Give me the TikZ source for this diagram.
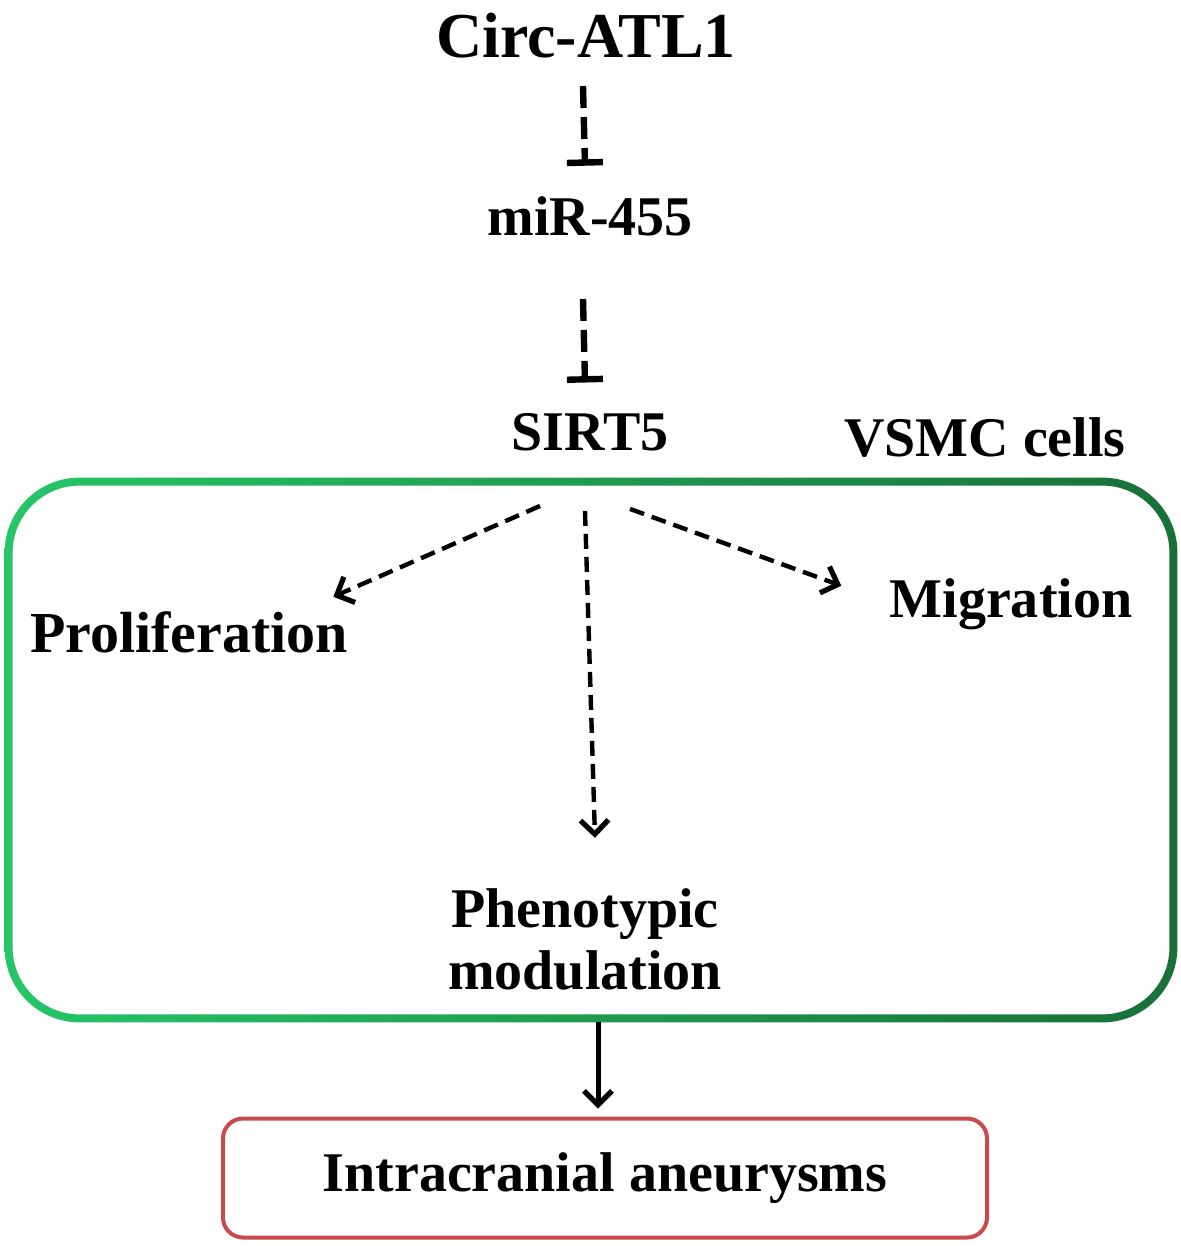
\documentclass[tikz,border=0pt]{standalone}
\usepackage{fontspec}
\setmainfont{Liberation Serif}
\usetikzlibrary{arrows.meta,positioning}
\definecolor{cellgreenL}{RGB}{38,198,104}
\definecolor{cellgreenR}{RGB}{24,112,56}
\definecolor{outcomered}{RGB}{200,74,74}
\tikzset{
  genetxt/.style={font=\bfseries\fontsize{28}{31}\selectfont, inner sep=0pt, align=center},
  inhibit/.style={dash pattern=on 11pt off 4.5pt, line width=3.2pt, -{Bar[width=18pt, line width=3.2pt]}},
  promote/.style={dash pattern=on 7.5pt off 4pt, line width=2.2pt, -{Straight Barb[length=7pt, width=14pt, line width=2.6pt]}},
  leadsto/.style={line width=2.5pt, -{Straight Barb[length=7pt, width=14pt, line width=2.6pt]}}
}
\begin{document}
\begin{tikzpicture}[x=0.5pt, y=-0.5pt]
    \useasboundingbox (0,0) rectangle (1180,1246);
    \node[genetxt, font=\bfseries\fontsize{32}{36}\selectfont, anchor=base] (circ) at (586,58) {Circ-ATL1};
    \node[genetxt, anchor=base] (mir) at (590,235) {miR-455};
    \node[genetxt, anchor=base] (sirt) at (590,450) {SIRT5};
    \node[genetxt, anchor=base] (vsmc) at (985,456) {VSMC cells};
    \node[minimum width=586pt, minimum height=272pt, inner sep=0pt] (cellbox) at (591,750) {};
    \shade[left color=cellgreenL, right color=cellgreenR, even odd rule]
        [rounded corners=37.5pt] (cellbox.south west) rectangle (cellbox.north east)
        [rounded corners=33.5pt] ([shift={(8,-8)}]cellbox.south west) rectangle ([shift={(-8,8)}]cellbox.north east);
    \node[genetxt, font=\bfseries\fontsize{29}{33}\selectfont, anchor=base] (prolif) at (189,652) {Proliferation};
    \node[genetxt, anchor=base] (migr) at (1011,617) {Migration};
    \node[genetxt] (phen) at (585,939) {Phenotypic\\modulation};
    \node[genetxt, draw=outcomered, line width=2pt, rounded corners=10pt,
          minimum width=382pt, minimum height=59.5pt] (ia) at (605,1178) {Intracranial aneurysms};

    \draw[inhibit] ([shift={(-3,27)}]circ.south) -- ([shift={(-5,-30)}]mir.north);
    \draw[inhibit] ([shift={(-7,63)}]mir.south) -- ([shift={(-5,-30)}]sirt.north);
    \draw[promote] ([shift={(-50,55)}]sirt.south) -- ([shift={(-15,-14)}]prolif.north east);
    \draw[promote] ([shift={(-5,60)}]sirt.south) -- ([shift={(10,-50)}]phen.north);
    \draw[promote] ([shift={(40,58)}]sirt.south) -- ([shift={(-48,8)}]migr.north west);
    \draw[leadsto] ([shift={(7,0)}]cellbox.south) -- ([shift={(-7,-8)}]ia.north);
\end{tikzpicture}
\end{document}
